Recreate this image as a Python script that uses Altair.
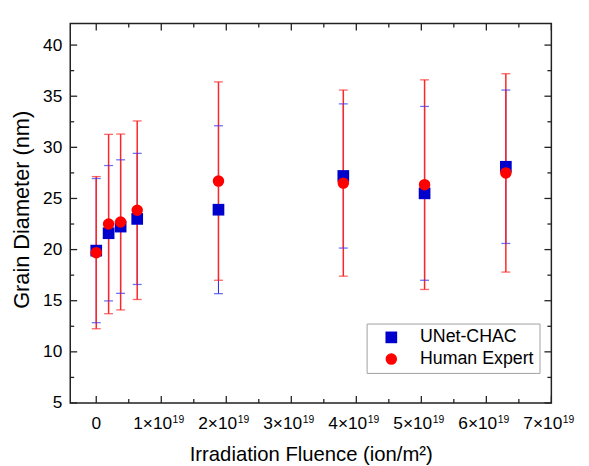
import altair as alt
import pandas as pd

# Irradiation fluence in units of 1e19 ion/m^2
fluence = [0.0, 0.19, 0.375, 0.63, 1.88, 3.8, 5.05, 6.3]
unet_mean = [19.9, 21.6, 22.25, 23.0, 23.9, 27.2, 25.5, 28.1]
unet_err = [7.05, 6.62, 6.53, 6.41, 8.21, 7.05, 8.5, 7.5]
human_mean = [19.7, 22.5, 22.7, 23.85, 26.7, 26.5, 26.35, 27.5]
human_err = [7.44, 8.77, 8.6, 8.73, 9.7, 9.1, 10.25, 9.7]
series_names = ["UNet-CHAC", "Human Expert"]
series_colors = ["#0000CD", "#FF0000"]
bar_colors = ["#3333EE", "#FF2525"]
bar_widths = [1.1, 1.5]
x_major = [0, 1, 2, 3, 4, 5, 6, 7]
x_minor = [0.5, 1.5, 2.5, 3.5, 4.5, 5.5, 6.5]
x_label_main = ["0", "1×10", "2×10", "3×10", "4×10", "5×10", "6×10", "7×10"]
x_label_sup = ["", "19", "19", "19", "19", "19", "19", "19"]
y_major = [5, 10, 15, 20, 25, 30, 35, 40]
y_minor = [7.5, 12.5, 17.5, 22.5, 27.5, 32.5, 37.5]

W, H = 487, 384
FONT = "Liberation Sans"
xs = alt.Scale(domain=[-0.4, 7.0], nice=False, zero=False)
ys = alt.Scale(domain=[5, 42.1], nice=False, zero=False)

rows = []
for name, means, errs in [(series_names[0], unet_mean, unet_err),
                          (series_names[1], human_mean, human_err)]:
    for f, m, e in zip(fluence, means, errs):
        rows.append({"series": name, "fluence": f, "mean": m,
                     "lo": m - e, "hi": m + e})
df = pd.DataFrame(rows)

x_axis = alt.Axis(
    values=x_major, labels=False,
    title="Irradiation Fluence (ion/m²)",
    ticks=False, tickSize=0, domain=False, grid=False,
    titleFontSize=20.5, titleFont=FONT, titleFontWeight="normal",
    titleColor="#000", titleX=W / 2, titleY=58,
    titleBaseline="alphabetic", titleAlign="center",
)
y_axis = alt.Axis(
    values=y_major,
    title="Grain Diameter (nm)",
    ticks=False, tickSize=0, domain=False, grid=False,
    labelFlush=False, labelOverlap=False, labelPadding=8.5,
    labelFontSize=17.5, labelFont=FONT, labelColor="#000",
    titleFontSize=22, titleFont=FONT, titleFontWeight="normal",
    titleColor="#000", titleX=-49, titleY=188,
    titleBaseline="middle", titleAlign="center", titleAngle=270,
)

def X(field):
    return alt.X(field, scale=xs, axis=x_axis)

def Y(field):
    return alt.Y(field, scale=ys, axis=y_axis)

base = alt.Chart(df)

layers = []
# error bars
for name, col, sw in zip(series_names, bar_colors, bar_widths):
    sub = base.transform_filter(alt.datum.series == name)
    layers.append(
        sub.mark_rule(color=col, strokeWidth=sw).encode(
            x=X("fluence:Q"), y=Y("lo:Q"), y2="hi:Q",
        )
    )
for name, col in zip(series_names, bar_colors):
    sub = base.transform_filter(alt.datum.series == name).transform_fold(["lo", "hi"], as_=["k", "v"])
    layers.append(
        sub.mark_tick(color=col, orient="horizontal", size=9, thickness=1.3).encode(
            x=X("fluence:Q"), y=Y("v:Q"),
        )
    )

legend = alt.Legend(
    title=None, orient="none", legendX=300, legendY=303.6,
    padding=5, symbolOffset=11, labelOffset=20, rowPadding=4,
    labelFontSize=18, labelFont=FONT, labelColor="#000",
    strokeColor="#a0a0a0", fillColor="white", symbolStrokeWidth=0,
)
points = base.mark_point(filled=True, opacity=1, strokeWidth=0).encode(
    x=X("fluence:Q"),
    y=Y("mean:Q"),
    color=alt.Color("series:N", scale=alt.Scale(domain=series_names, range=series_colors), legend=legend),
    shape=alt.Shape("series:N", scale=alt.Scale(domain=series_names, range=["square", "circle"]), legend=legend),
    size=alt.Size("series:N", scale=alt.Scale(domain=series_names, range=[140, 135]), legend=legend),
)
layers.append(points)

# inward frame ticks
FR = "#222"
def xticks(vals, ln):
    d = alt.Chart(pd.DataFrame({"t": vals}))
    bottom = d.mark_rule(color=FR, strokeWidth=1.3).encode(
        x=X("t:Q"), y=alt.value(H), y2=alt.value(H - ln))
    top = d.mark_rule(color=FR, strokeWidth=1.3).encode(
        x=X("t:Q"), y=alt.value(0), y2=alt.value(ln))
    return [bottom, top]

def yticks(vals, ln):
    d = alt.Chart(pd.DataFrame({"t": vals}))
    left = d.mark_rule(color=FR, strokeWidth=1.3).encode(
        y=Y("t:Q"), x=alt.value(0), x2=alt.value(ln))
    right = d.mark_rule(color=FR, strokeWidth=1.3).encode(
        y=Y("t:Q"), x=alt.value(W), x2=alt.value(W - ln))
    return [left, right]

layers += xticks(x_major, 7) + xticks(x_minor, 4) + yticks(y_major, 7) + yticks(y_minor, 4)

# x tick labels with real superscripts
lab = pd.DataFrame({"t": x_major, "main": x_label_main, "sup": x_label_sup})
lab_chart = alt.Chart(lab)
zero_lab = lab_chart.transform_filter(alt.datum.t == 0).mark_text(
    font=FONT, fontSize=17.5, color="#000", align="center", baseline="alphabetic"
).encode(x=X("t:Q"), y=alt.value(H + 26), text="main:N")
main_lab = lab_chart.transform_filter(alt.datum.t != 0).mark_text(
    font=FONT, fontSize=17.5, color="#000", align="right", baseline="alphabetic", dx=11
).encode(x=X("t:Q"), y=alt.value(H + 26), text="main:N")
sup_lab = lab_chart.transform_filter(alt.datum.t != 0).mark_text(
    font=FONT, fontSize=10.5, color="#000", align="left", baseline="alphabetic", dx=11.5
).encode(x=X("t:Q"), y=alt.value(H + 20.5), text="sup:N")
layers += [zero_lab, main_lab, sup_lab]

chart = alt.layer(*layers).properties(
    width=W, height=H,
    autosize=alt.AutoSizeParams(type="none"),
    padding={"left": 63, "top": 13, "right": 30, "bottom": 61},
).configure_view(stroke=FR, strokeWidth=1.5)

chart.save("out.html", embed_options={"renderer": "svg", "actions": False})
